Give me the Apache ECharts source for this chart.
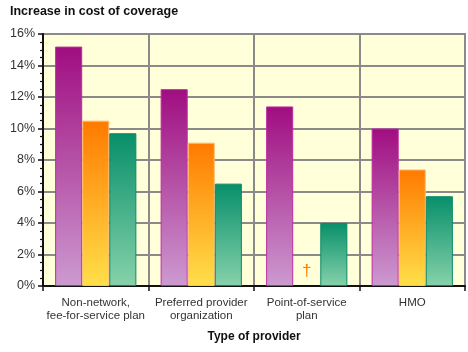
<!DOCTYPE html>
<html><head><meta charset="utf-8">
<script src="https://cdn.jsdelivr.net/npm/echarts@6/dist/echarts.min.js"></script>
<style>html,body{margin:0;padding:0;background:#fff}#c{width:468px;height:352px}</style>
</head><body><div id="c"></div>
<script>
var categories = ['Non-network,\nfee-for-service plan', 'Preferred provider\norganization', 'Point-of-service\nplan', 'HMO'];
var purpleValues = [15.2, 12.5, 11.4, 10.0];
var orangeValues = [10.5, 9.1, null, 7.4];
var greenValues = [9.7, 6.5, 4.0, 5.7];
var yTicks = [0, 2, 4, 6, 8, 10, 12, 14, 16];
var daggerCategoryIndex = 2;

var FONT = 'Liberation Sans';
function grad(top, bottom) {
  return new echarts.graphic.LinearGradient(0, 0, 0, 1, [{offset: 0, color: top}, {offset: 1, color: bottom}]);
}
var orangeData = orangeValues.map(function (v, i) {
  if (i === daggerCategoryIndex) {
    return {value: 0, itemStyle: {color: 'rgba(0,0,0,0)', borderWidth: 0},
      label: {show: true, formatter: '\u2020', position: 'top', distance: 6,
        color: '#ff7f00', fontSize: 17, fontFamily: FONT}};
  }
  return v;
});
var chart = echarts.init(document.getElementById('c'));
chart.setOption({
  animation: false,
  title: {text: 'Increase in cost of coverage', left: 5, top: 0,
    textStyle: {fontFamily: FONT, fontSize: 12.5, fontWeight: 'bold', color: '#111'}},
  grid: {left: 43, right: 3, top: 34, bottom: 66, show: true, backgroundColor: '#ffffd9', borderColor: '#333', borderWidth: 1.5},
  xAxis: {
    type: 'category', data: categories,
    name: 'Type of provider', nameLocation: 'middle', nameGap: 45,
    nameTextStyle: {fontFamily: FONT, fontSize: 12, fontWeight: 'bold', color: '#111'},
    axisLine: {lineStyle: {color: '#111', width: 2}},
    axisTick: {show: true, interval: 0, length: 5, lineStyle: {color: '#111', width: 1.5}},
    axisLabel: {interval: 0, fontFamily: FONT, fontSize: 11.5, color: '#333', lineHeight: 13, margin: 10},
    splitLine: {show: true, interval: 0, lineStyle: {color: '#8a8a8a', width: 2}}
  },
  yAxis: {
    type: 'value', min: yTicks[0], max: yTicks[yTicks.length - 1], interval: 2,
    axisLine: {show: true, lineStyle: {color: '#111', width: 2}},
    axisTick: {show: true, length: 5, lineStyle: {color: '#111', width: 1.5}},
    minorTick: {show: true, splitNumber: 4, length: 3, lineStyle: {color: '#111', width: 1.2}},
    axisLabel: {fontFamily: FONT, fontSize: 12.5, color: '#333', margin: 8, formatter: '{value}%'},
    splitLine: {show: true, lineStyle: {color: '#8a8a8a', width: 2}}
  },
  series: [
    {type: 'bar', data: purpleValues, barGap: '0%', barCategoryGap: '23%',
      itemStyle: {color: grad('#a00d80', '#cc9ad0'), borderColor: '#c02aa0', borderWidth: 1}},
    {type: 'bar', data: orangeData,
      itemStyle: {color: grad('#ff7a00', '#ffe04a'), borderColor: '#ffbb77', borderWidth: 1}},
    {type: 'bar', data: greenValues,
      itemStyle: {color: grad('#078f6a', '#86d2aa'), borderColor: '#0a8a68', borderWidth: 1}}
  ]
});
</script></body></html>
